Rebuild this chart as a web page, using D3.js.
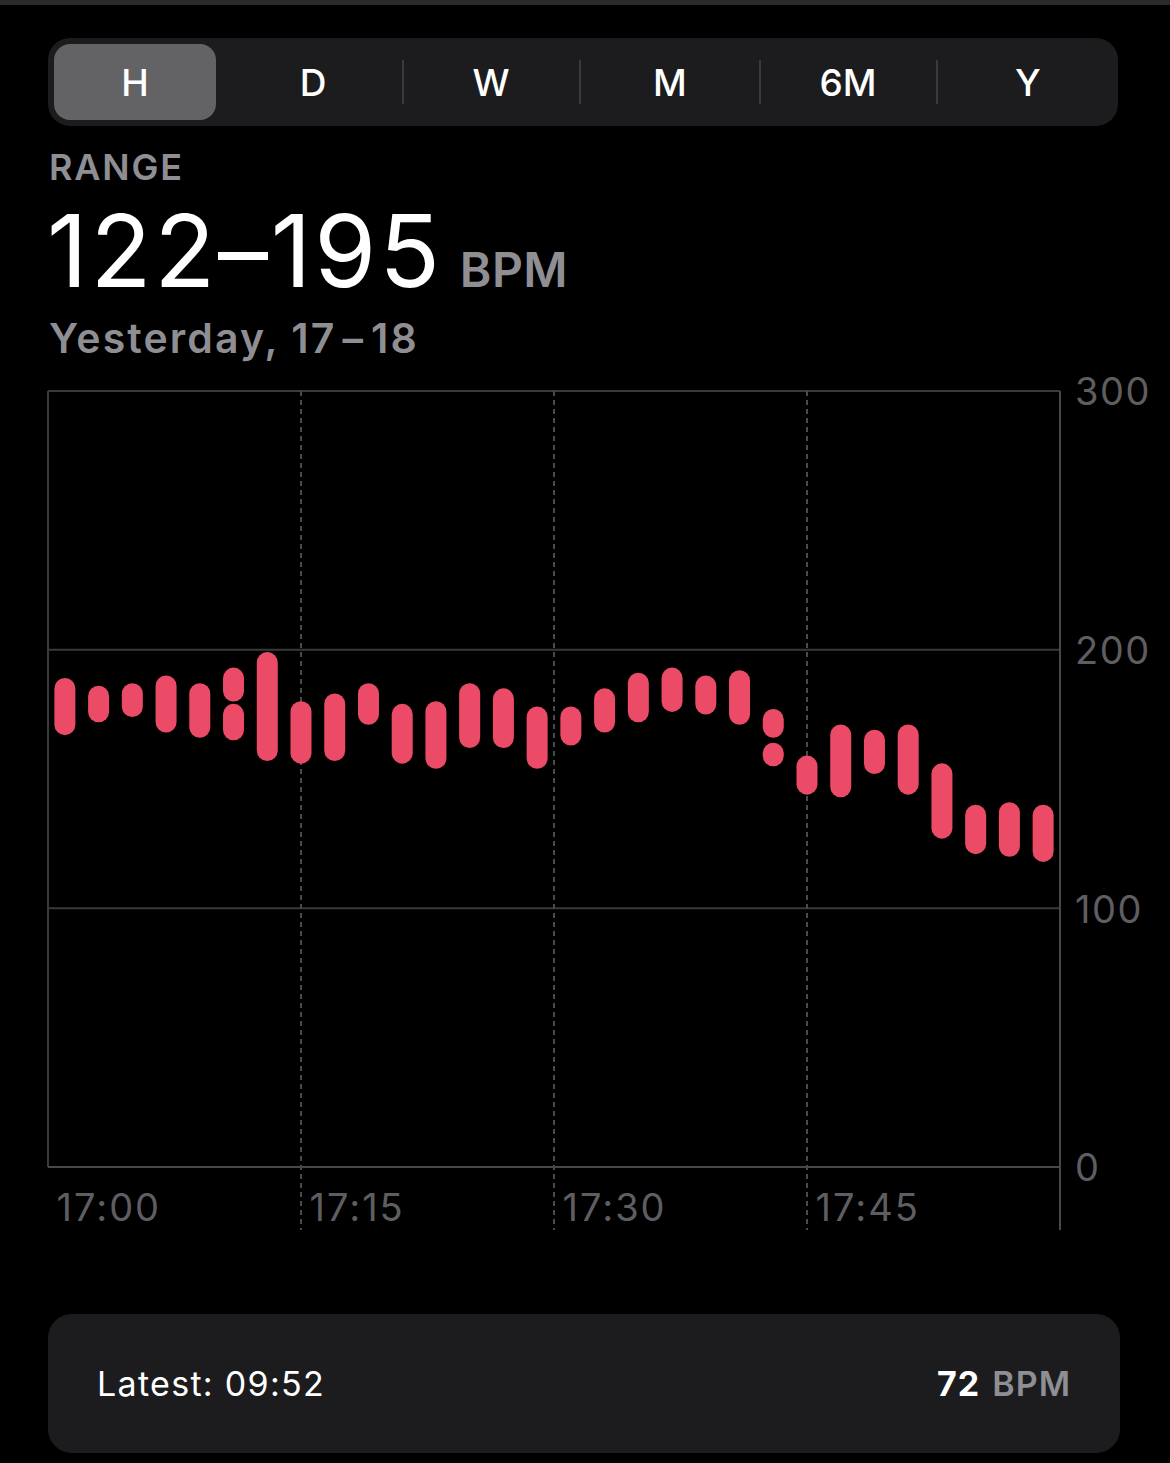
<!DOCTYPE html>
<html>
<head>
<meta charset="utf-8">
<script src="https://cdn.jsdelivr.net/npm/d3@7"></script>
<style>
  html, body { margin: 0; padding: 0; background: #000; }
  svg { display: block; font-family: Inter, "Noto Sans", sans-serif; }
</style>
</head>
<body>
<svg id="canvas" width="1170" height="1463"></svg>
<script>
// ---------------------------------------------------------------- //
// Data (heart rate range per 2 minute bucket, 17:00 - 18:00)

var periods = ['H', 'D', 'W', 'M', '6M', 'Y'];

var segMinute = [1, 3, 5, 7, 9, 11, 11, 13, 15, 17, 19, 21, 23, 25, 27, 29, 31, 33, 35, 37, 39, 41, 43, 43, 45, 47, 49, 51, 53, 55, 57, 59];
var segLow    = [171, 176, 178, 172, 170, 184, 169, 161, 160, 161, 175, 160, 158, 166, 166, 158, 167, 172, 176, 180, 179, 175, 170, 159, 148, 147, 156, 148, 131, 125, 124, 122];
var segHigh   = [185, 182, 183, 186, 183, 189, 175, 195, 176, 179, 183, 175, 176, 183, 181, 174, 174, 181, 187, 189, 186, 188, 173, 160, 155, 167, 165, 167, 152, 136, 137, 136];

var yTicks = [0, 100, 200, 300];
var xTickMinutes = [0, 15, 30, 45];
var xTickLabels = ['17:00', '17:15', '17:30', '17:45'];

var rangeText = '122–195';
var latestTime = 'Latest: 09:52';
var latestValue = '72';

// ---------------------------------------------------------------- //
// Setup

var svg = d3.select('#canvas');
var base = new Date(2024, 0, 1, 17, 0);
var at = function(m){ return d3.timeMinute.offset(base, m) };

var x = d3.scaleTime().domain([at(0), at(60)]).range([48, 1060]);
var y = d3.scaleLinear().domain([0, 300]).range([1167, 391]);

svg.append('rect').attr('width', 1170).attr('height', 1463).attr('fill', '#000');
svg.append('rect').attr('width', 1170).attr('height', 5).attr('fill', '#2a2a2c');

// ---------------------------------------------------------------- //
// Segmented control

svg.append('rect').attr('x', 48).attr('y', 38).attr('width', 1070).attr('height', 88).attr('rx', 22).attr('fill', '#1c1c1e');
svg.append('rect').attr('x', 54).attr('y', 44).attr('width', 162).attr('height', 76).attr('rx', 16).attr('fill', '#636366');

var segCenters = [135, 313, 491, 670, 848, 1028];
svg.selectAll('.sep').data([403, 580, 760, 937]).enter().append('line')
  .attr('x1', d => d).attr('x2', d => d).attr('y1', 60).attr('y2', 104)
  .attr('stroke', '#3a3a3c').attr('stroke-width', 2);

svg.selectAll('.period').data(periods).enter().append('text')
  .attr('x', (d, i) => segCenters[i]).attr('y', 96)
  .attr('text-anchor', 'middle').attr('fill', '#fff')
  .style('font-size', '37px').style('font-weight', 500)
  .text(d => d);

// ---------------------------------------------------------------- //
// Header text

svg.append('text').attr('x', 49).attr('y', 180).attr('fill', '#8e8e93')
  .style('font-size', '36px').style('font-weight', 600).style('letter-spacing', '1.8px').text('RANGE');

var big = svg.append('text').attr('x', 47).attr('y', 287);
big.append('tspan').attr('fill', '#fff').style('font-size', '100px').style('font-weight', 400).style('letter-spacing', '2.8px').text(rangeText);
big.append('tspan').attr('dx', 17).attr('fill', '#8e8e93').style('font-size', '48px').style('font-weight', 600).style('letter-spacing', '0.5px').text('BPM');

var sub = svg.append('text').attr('x', 49).attr('y', 353).attr('fill', '#8e8e93')
  .style('font-size', '41px').style('font-weight', 600).style('letter-spacing', '2.1px');
sub.append('tspan').text('Yesterday, 17');
sub.append('tspan').attr('dx', 6).text('–');
sub.append('tspan').attr('dx', 6).text('18');

// ---------------------------------------------------------------- //
// Chart frame + grid

var chart = svg.append('g');

chart.selectAll('.hgrid').data(yTicks.filter(d => d > 0)).enter().append('line')
  .attr('x1', 48).attr('x2', 1060).attr('y1', d => y(d)).attr('y2', d => y(d))
  .attr('stroke', '#3a3a3c').attr('stroke-width', 2);

chart.append('line').attr('x1', 48).attr('x2', 48).attr('y1', y(300)).attr('y2', y(0))
  .attr('stroke', '#3a3a3c').attr('stroke-width', 2);

chart.selectAll('.vgrid').data(xTickMinutes.filter(d => d > 0)).enter().append('line')
  .attr('x1', d => x(at(d))).attr('x2', d => x(at(d))).attr('y1', y(300)).attr('y2', 1230)
  .attr('stroke', '#4a4a4c').attr('stroke-width', 2).attr('stroke-dasharray', '5,4');

chart.append('line').attr('x1', 48).attr('x2', 1060).attr('y1', y(0)).attr('y2', y(0))
  .attr('stroke', '#48484a').attr('stroke-width', 2);
chart.append('line').attr('x1', 1060).attr('x2', 1060).attr('y1', y(300)).attr('y2', 1230)
  .attr('stroke', '#48484a').attr('stroke-width', 2);

// y axis labels
var yAxis = chart.append('g').attr('transform', 'translate(1060,0)')
  .call(d3.axisRight(y).tickValues(yTicks).tickSize(0).tickPadding(15));
yAxis.select('.domain').remove();
yAxis.selectAll('text').attr('fill', '#5e5e62').style('font-size', '38px').style('font-family', 'Inter, sans-serif')
  .style('letter-spacing', '1.5px').attr('dy', '0.36em');

// x axis labels
var xAxis = chart.append('g').attr('transform', 'translate(0,1167)')
  .call(d3.axisBottom(x).tickValues(xTickMinutes.map(at)).tickSize(0)
    .tickFormat((d, i) => xTickLabels[i]));
xAxis.select('.domain').remove();
xAxis.selectAll('text').attr('fill', '#5e5e62').style('font-size', '38px').style('font-family', 'Inter, sans-serif')
  .style('letter-spacing', '2px').attr('text-anchor', 'start').attr('x', 8).attr('y', 54).attr('dy', null);

// ---------------------------------------------------------------- //
// Range capsules

chart.selectAll('.seg').data(segMinute).enter().append('line')
  .attr('x1', d => x(at(d))).attr('x2', d => x(at(d)))
  .attr('y1', (d, i) => y(segHigh[i])).attr('y2', (d, i) => y(segLow[i]))
  .attr('stroke', '#eb4b67').attr('stroke-width', 21).attr('stroke-linecap', 'round');

// ---------------------------------------------------------------- //
// Latest card

svg.append('rect').attr('x', 48).attr('y', 1314).attr('width', 1072).attr('height', 139).attr('rx', 24).attr('fill', '#1c1c1e');
svg.append('text').attr('x', 97).attr('y', 1396).attr('fill', '#fff')
  .style('font-size', '34px').style('font-weight', 400).style('letter-spacing', '1.3px').text(latestTime);
var lv = svg.append('text').attr('x', 1071).attr('y', 1396).attr('text-anchor', 'end').style('letter-spacing', '1px');
lv.append('tspan').attr('fill', '#fff').style('font-size', '34px').style('font-weight', 700).text(latestValue);
lv.append('tspan').attr('dx', 12).attr('fill', '#8e8e93').style('font-size', '34px').style('font-weight', 600).text('BPM');
</script>
</body>
</html>
